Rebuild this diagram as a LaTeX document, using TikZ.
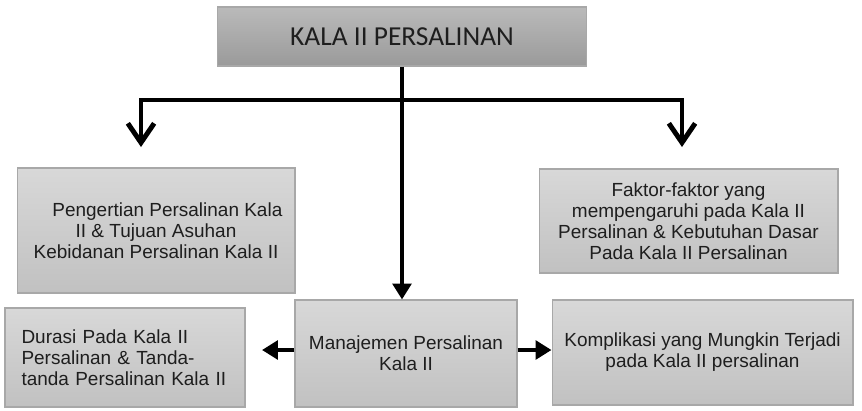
\documentclass[tikz,border=0pt]{standalone}
\usepackage{fontspec}
\setmainfont{Liberation Sans}
\newfontfamily\titlefont{Carlito}
\usepackage{xcolor}
\definecolor{kalatop}{RGB}{186,186,186}
\definecolor{kalabot}{RGB}{154,154,154}
\definecolor{boxtop}{RGB}{216,216,216}
\definecolor{boxbot}{RGB}{193,193,193}
\definecolor{boxline}{RGB}{168,168,168}
\definecolor{kalatext}{RGB}{30,30,30}
\usepackage{tikz}
\usetikzlibrary{arrows.meta,positioning,shadings}

\begin{document}
\begin{tikzpicture}[
  x=0.02cm, y=-0.02cm,
  box/.style={draw=boxline, line width=0.6pt, top color=boxtop, bottom color=boxbot, align=center, text=kalatext, font=\fontsize{10.8}{11.9}\selectfont, inner sep=2pt},
  head/.style={draw=boxline, line width=0.6pt, top color=kalatop, bottom color=kalabot, text=kalatext, font=\titlefont\fontsize{15.6}{18}\selectfont},
  arr/.style={-{Triangle[length=9pt,width=10.5pt]}, line width=2.8pt, black},
  branch/.style={{Straight Barb[length=11pt,width=15pt]}-{Straight Barb[length=11pt,width=15pt]}, line width=2.8pt, black}
]
\useasboundingbox (0,0) rectangle (862,410);

% Title
\node[head, minimum width=7.38cm, minimum height=1.18cm] (kala) at (402,36.5) {KALA II PERSALINAN};

% First row
\node[box, minimum width=5.56cm, minimum height=2.5cm] (pengertian) at (156,230.5) {\hspace*{1.2em}Pengertian Persalinan Kala\\II \& Tujuan Asuhan\\Kebidanan Persalinan Kala II};
\node[box, minimum width=5.98cm, minimum height=2.08cm] (faktor) at (688.5,221) {Faktor-faktor yang\\mempengaruhi pada Kala II\\Persalinan \& Kebutuhan Dasar\\Pada Kala II Persalinan};

% Second row
\node[box, minimum width=4.44cm, minimum height=2.14cm] (manajemen) at (406,353.5) {Manajemen Persalinan\\Kala II};
\node[box, align=left, text width=4.14cm, inner xsep=0.33cm, minimum height=1.98cm] (durasi) at (125,357.5) {Durasi Pada Kala II\\Persalinan \& Tanda-\\tanda Persalinan Kala II};
\node[box, minimum width=6.02cm, minimum height=2.1cm] (komplikasi) at (702.5,352.5) {Komplikasi yang Mungkin Terjadi\\pada Kala II persalinan};

% Branch line
\coordinate (jl) at (141,100);
\coordinate (jr) at (682,100);
\coordinate (tl) at (141,147);
\coordinate (tr) at (682,147);
\coordinate (td) at (262,350);

\draw[branch] (tl) -- (jl) -- (jr) -- (tr);
\draw[arr] (kala.south) -- (kala.south |- manajemen.north);
\draw[arr] (manajemen.west |- td) -- (td);
\draw[arr] (manajemen.east |- td) -- (komplikasi.west |- td);
\end{tikzpicture}
\end{document}
